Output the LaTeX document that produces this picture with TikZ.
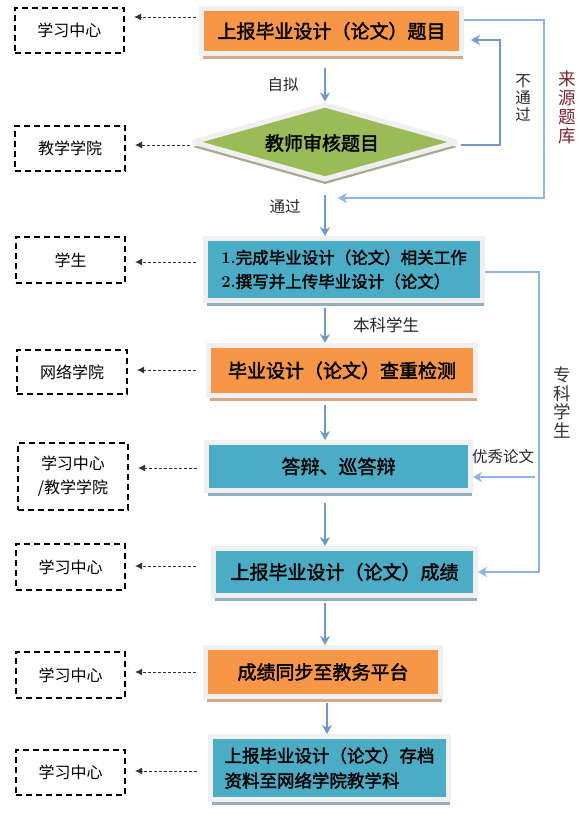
\documentclass[tikz,border=0pt]{standalone}
\usepackage{fontspec}
\newfontfamily\cjk{Noto Sans CJK SC}
\newfontfamily\cjkb[FakeBold=2]{Noto Sans CJK SC}
\usetikzlibrary{shapes.geometric,arrows.meta,shadows,calc}
\newcommand\myfs[2]{\fontsize{#1}{#2}\selectfont}
\definecolor{orng}{HTML}{F79646}
\definecolor{blu}{HTML}{4BACC6}
\definecolor{grn}{HTML}{9BBB59}
\definecolor{frm}{HTML}{F0F0F0}
\definecolor{oshd}{HTML}{D3A988}
\definecolor{bshd}{HTML}{93AEBF}
\definecolor{gshd}{HTML}{A7AA8E}
\definecolor{flowc}{HTML}{7098C8}
\definecolor{sidec}{HTML}{8DB4E2}
\definecolor{mar}{HTML}{7A2430}
\begin{document}
\begin{tikzpicture}[x=1pt,y=-1pt,
  mainbox/.style={draw=frm, line width=5pt, inner sep=0pt, font=\cjkb\myfs{19}{24}},
  obox/.style={mainbox, fill=orng, drop shadow={shadow xshift=1.5pt, shadow yshift=-5pt, fill=oshd, opacity=1}},
  bbox/.style={mainbox, fill=blu, drop shadow={shadow xshift=1.5pt, shadow yshift=-5pt, fill=bshd, opacity=1}},
  lbox/.style={draw=black, line width=2pt, dash pattern=on 6pt off 4pt, inner sep=0pt, font=\cjk\myfs{16}{24}, align=center},
  flow/.style={draw=flowc, line width=2pt, -{Stealth[length=9pt,width=10pt]}},
  side/.style={draw=sidec, line width=2.2pt, -{Stealth[length=9pt,width=10pt]}},
  refline/.style={dash pattern=on 3pt off 2pt, draw=black!80, line width=1pt, -{Latex[length=7pt,width=7pt]}, shorten >=9pt},
  lab/.style={font=\cjk\myfs{15.5}{17}, inner sep=0pt, text=black!85},
  vlab/.style={font=\cjk\myfs{17.5}{18.75}, inner sep=0pt, align=center}
]
\useasboundingbox (0,0) rectangle (588,817);

% main boxes
\node[obox, minimum width=260pt, minimum height=45pt] (box1) at (331.5,31) {上报毕业设计（论文）题目};
\node[diamond, draw=frm, line width=5pt, fill=grn, minimum width=266pt, minimum height=76pt, inner sep=0pt, line join=bevel,
      drop shadow={shadow xshift=0pt, shadow yshift=-5pt, fill=gshd, opacity=1}] (dia) at (325,142) {};
\node[font=\cjkb\myfs{19}{22}, inner sep=0pt] (diat) at (322,143) {教师审核题目};
\node[bbox, minimum width=277pt, minimum height=62pt, align=left, font=\cjkb\myfs{16.5}{24}] (box3) at (344,269.5)
  {{\normalfont\bfseries 1.}完成毕业设计（论文）相关工作\\{\normalfont\bfseries 2.}撰写并上传毕业设计（论文）};
\node[obox, minimum width=267pt, minimum height=50pt] (box4) at (342,370.5) {毕业设计（论文）查重检测};
\node[bbox, minimum width=264pt, minimum height=48pt] (box5) at (338.5,466.5) {答辩、巡答辩};
\node[bbox, minimum width=262pt, minimum height=47pt] (box6) at (344.5,572) {上报毕业设计（论文）成绩};
\node[obox, minimum width=235pt, minimum height=49pt] (box7) at (323,672) {成绩同步至教务平台};
\node[bbox, minimum width=238pt, minimum height=63pt, align=left, font=\cjkb\myfs{17.5}{25}] (box8) at (329.5,768)
  {上报毕业设计（论文）存档\\资料至网络学院教学科};

% left dashed boxes
\node[lbox, minimum width=109pt, minimum height=45pt] (l1) at (69.5,30.5) {学习中心};
\node[lbox, minimum width=110pt, minimum height=45pt] (l2) at (70,148.5) {教学学院};
\node[lbox, minimum width=109pt, minimum height=46pt] (l3) at (70.5,260) {学生};
\node[lbox, minimum width=110pt, minimum height=44pt] (l4) at (72,372) {网络学院};
\node[lbox, minimum width=110pt, minimum height=67pt] (l5) at (73,476.5) {学习中心\\/教学学院};
\node[lbox, minimum width=109pt, minimum height=46pt] (l6) at (70.5,567) {学习中心};
\node[lbox, minimum width=109pt, minimum height=46pt] (l7) at (70.5,675) {学习中心};
\node[lbox, minimum width=109pt, minimum height=45pt] (l8) at (70.5,772.5) {学习中心};

% labels
\node[lab] (t1) at (283,85) {自拟};
\node[lab] (t2) at (285,207) {通过};
\node[lab, font=\cjk\myfs{16.5}{17}] (t3) at (386,325) {本科学生};
\node[lab, font=\cjk\myfs{15.5}{17}] (t4) at (503,457) {优秀论文};
\node[lab, align=center, font=\cjk\myfs{15.5}{16.7}] (t5) at (523,98) {不\\通\\过};
\node[vlab, text=mar] (t6) at (567,107.5) {来\\源\\题\\库};
\node[vlab, text=black!80] (t7) at (562,402.5) {专\\科\\学\\生};

% main flow
\draw[flow] ($(box1.south -| dia.north)+(0,12)$) -- (dia.north);
\draw[flow] ($(dia.south)+(0,12)$) -- (box3.north -| dia.south);
\draw[flow] ($(box3.south -| dia.south)+(0,4.5)$) -- (box4.north -| dia.south);
\draw[flow] ($(box4.south -| dia.south)+(0,7)$) -- (box5.north -| dia.south);
\draw[flow] ($(box5.south -| dia.south)+(0,10)$) -- (box6.north -| dia.south);
\draw[flow] ($(box6.south -| dia.south)+(0,5)$) -- (box7.north -| dia.south);
\draw[flow] ($(box7.south -| dia.south)+(2,4)$) -- ($(box8.north -| dia.south)+(2,0)$);

% side routes
\coordinate (srcend) at ($(dia.south)+(13,15.5)$);
\coordinate (srcx) at (544,0);
\coordinate (srcst) at ($(box1.east)+(0,-11)$);
\draw[side] (srcst) -- (srcst -| srcx) |- (srcend);
\coordinate (nbx) at (500,0);
\coordinate (nbend) at ($(box1.east)+(7,9)$);
\draw[flow] ($(dia.east)+(0,3)$) -- ($(dia.east -| nbx)+(0,3)$) |- (nbend);
\coordinate (zkx) at (539,0);
\coordinate (zk1) at ($(box3.east)+(0,2.5)$);
\draw[side] (zk1) -- (zk1 -| zkx) |- (box6.east);
\coordinate (yx) at (535,477);
\draw[side] (yx) -- (yx -| box5.east);

% reference arrows
\coordinate (r1) at (196,17);
\coordinate (r2) at (190,145);
\coordinate (r3) at (196,262);
\coordinate (r4) at (196,370);
\coordinate (r5) at (197,468);
\coordinate (r6) at (196,566);
\coordinate (r7) at (196,672);
\coordinate (r8) at (197,771);
\draw[refline] (r1) -- (r1 -| l1.east);
\draw[refline] (r2) -- (r2 -| l2.east);
\draw[refline] (r3) -- (r3 -| l3.east);
\draw[refline] (r4) -- (r4 -| l4.east);
\draw[refline] (r5) -- (r5 -| l5.east);
\draw[refline] (r6) -- (r6 -| l6.east);
\draw[refline] (r7) -- (r7 -| l7.east);
\draw[refline] (r8) -- (r8 -| l8.east);
\end{tikzpicture}
\end{document}
